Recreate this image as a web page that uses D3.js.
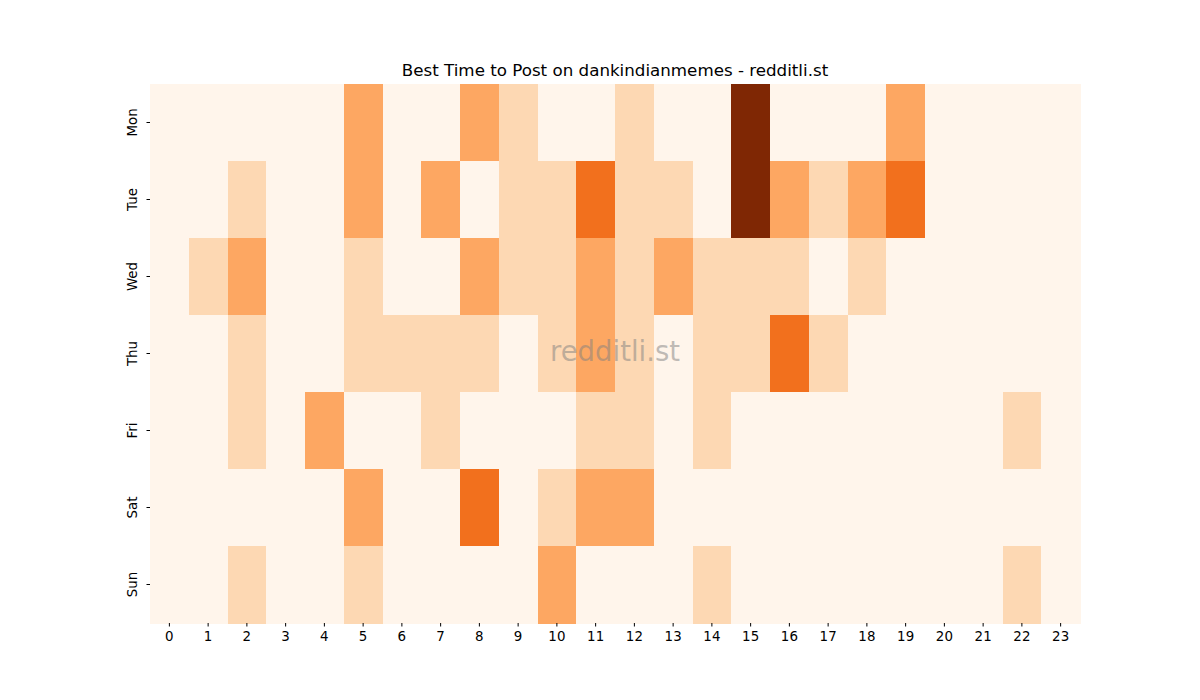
<!DOCTYPE html>
<html>
<head>
<meta charset="utf-8">
<script src="https://cdn.jsdelivr.net/npm/d3@7"></script>
<style>
  body { margin: 0; background: #fff; }
  svg text { font-family: "DejaVu Sans", sans-serif; }
</style>
</head>
<body>
<div id="chart"></div>
<script>
// --- Data ---
const days = ["Mon", "Tue", "Wed", "Thu", "Fri", "Sat", "Sun"];
const hours = d3.range(0, 24);
// post counts per hour, one row per day
const mon = [0,0,0,0,0,2,0,0,2,1,0,0,1,0,0,5,0,0,0,2,0,0,0,0];
const tue = [0,0,1,0,0,2,0,2,0,1,1,3,1,1,0,5,2,1,2,3,0,0,0,0];
const wed = [0,1,2,0,0,1,0,0,2,1,1,2,1,2,1,1,1,0,1,0,0,0,0,0];
const thu = [0,0,1,0,0,1,1,1,1,0,1,2,1,0,1,1,3,1,0,0,0,0,0,0];
const fri = [0,0,1,0,2,0,0,1,0,0,0,1,1,0,1,0,0,0,0,0,0,0,1,0];
const sat = [0,0,0,0,0,2,0,0,3,0,1,2,2,0,0,0,0,0,0,0,0,0,0,0];
const sun = [0,0,1,0,0,1,0,0,0,0,2,0,0,0,1,0,0,0,0,0,0,0,1,0];
const rows = [mon, tue, wed, thu, fri, sat, sun];

// --- Layout ---
const W = 1200, H = 700;
const mLeft = 150, mRight = 1080, mTop = 84, mBottom = 623;

const x = d3.scaleBand().domain(hours).range([mLeft, mRight]);
const y = d3.scaleBand().domain(days).range([mTop, mBottom]);
const color = d3.scaleSequential(d3.interpolateOranges).domain([0, 5]);

const cells = [];
rows.forEach((r, i) => r.forEach((v, h) => cells.push({ day: days[i], hour: h, v })));

const svg = d3.select("#chart").append("svg").attr("width", W).attr("height", H);

svg.append("g")
  .selectAll("rect")
  .data(cells)
  .join("rect")
  .attr("x", d => x(d.hour))
  .attr("y", d => y(d.day))
  .attr("width", x.bandwidth() + 0.5)
  .attr("height", y.bandwidth() + 0.5)
  .attr("fill", d => color(d.v))
  .attr("shape-rendering", "crispEdges");

// axes
const xAxis = svg.append("g")
  .attr("transform", `translate(0,${mBottom})`)
  .call(d3.axisBottom(x).tickSize(3.5).tickPadding(5));
xAxis.select(".domain").remove();
xAxis.selectAll("text")
  .attr("font-size", 13.4).attr("fill", "#000")
  .style("font-family", "DejaVu Sans, sans-serif");

const yAxis = svg.append("g")
  .attr("transform", `translate(${mLeft},0)`)
  .call(d3.axisLeft(y).tickSize(3.5).tickPadding(5));
yAxis.select(".domain").remove();
yAxis.selectAll("text")
  .attr("font-size", 13.4).attr("fill", "#000")
  .style("font-family", "DejaVu Sans, sans-serif")
  .attr("x", 0).attr("y", 0)
  .attr("dy", "0.35em")
  .attr("text-anchor", "middle")
  .attr("transform", "translate(-18,0) rotate(-90)");

// watermark
svg.append("text")
  .attr("x", (mLeft + mRight) / 2)
  .attr("y", 353)
  .attr("text-anchor", "middle")
  .attr("dominant-baseline", "middle")
  .attr("font-size", 27.5)
  .attr("fill", "#808080")
  .attr("fill-opacity", 0.5)
  .text("redditli.st");

// title
svg.append("text")
  .attr("x", (mLeft + mRight) / 2)
  .attr("y", 76)
  .attr("text-anchor", "middle")
  .attr("font-size", 16.7)
  .attr("fill", "#000")
  .text("Best Time to Post on dankindianmemes - redditli.st");
</script>
</body>
</html>
